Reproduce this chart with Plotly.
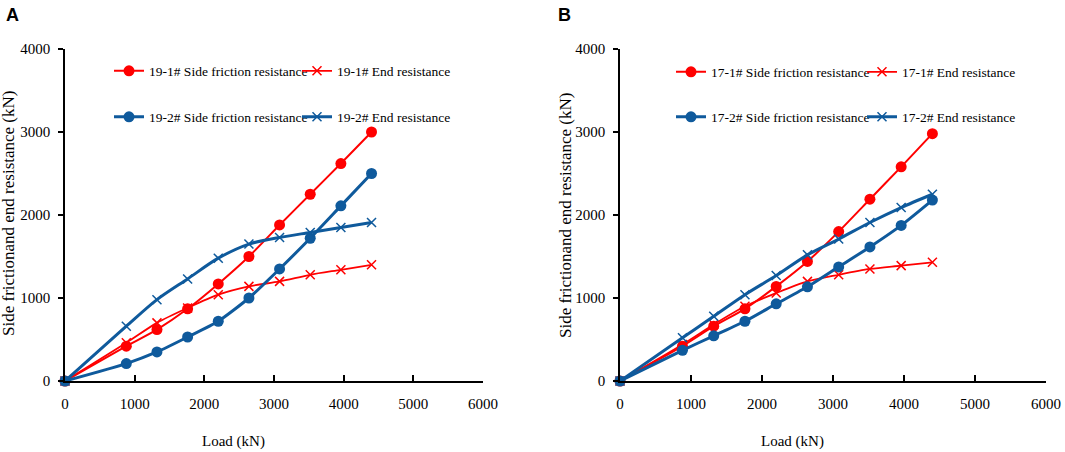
import plotly.graph_objects as go

# ---------------- data ----------------
load = [0, 880, 1320, 1760, 2200, 2640, 3080, 3520, 3960, 4400]

a_19_1_side = [0, 420, 620, 870, 1170, 1500, 1880, 2250, 2620, 3000]
a_19_1_end = [0, 460, 700, 880, 1040, 1140, 1200, 1280, 1340, 1400]
a_19_2_side = [0, 210, 350, 530, 720, 1000, 1350, 1720, 2110, 2500]
a_19_2_end = [0, 660, 980, 1230, 1480, 1650, 1730, 1790, 1850, 1910]

b_17_1_side = [0, 420, 660, 870, 1140, 1440, 1800, 2190, 2580, 2980]
b_17_1_end = [0, 440, 680, 900, 1060, 1200, 1280, 1350, 1390, 1430]
b_17_2_side = [0, 370, 545, 720, 930, 1135, 1375, 1615, 1875, 2180]
b_17_2_end = [0, 520, 780, 1040, 1270, 1520, 1710, 1910, 2090, 2250]

x_ticks = [0, 1000, 2000, 3000, 4000, 5000, 6000]
y_ticks = [0, 1000, 2000, 3000, 4000]

names_a = ["19-1# Side friction resistance", "19-1# End resistance",
           "19-2# Side friction resistance", "19-2# End resistance"]
names_b = ["17-1# Side friction resistance", "17-1# End resistance",
           "17-2# Side friction resistance", "17-2# End resistance"]

# ---------------- style ----------------
RED = "#ff0000"
BLUE = "#0f5a9c"
W, H = 1065, 452
SERIF = "Liberation Serif"

fig = go.Figure()


def side(x, y, name, color, lw, xa, ya, leg):
    fig.add_trace(go.Scatter(
        x=x, y=y, name=name, mode="lines+markers", xaxis=xa, yaxis=ya,
        legend=leg, cliponaxis=False, showlegend=True,
        line=dict(color=color, width=lw, shape="spline", smoothing=0.6),
        marker=dict(symbol="circle", size=11, color=color)))


def end(x, y, name, color, lw, xa, ya, leg):
    fig.add_trace(go.Scatter(
        x=x, y=y, name=name, mode="lines+markers", xaxis=xa, yaxis=ya,
        legend=leg, cliponaxis=False, showlegend=True,
        line=dict(color=color, width=lw, shape="spline", smoothing=0.8),
        marker=dict(symbol="x-thin-open", size=9, color=color,
                    line=dict(color=color, width=1.5))))


side(load, a_19_1_side, names_a[0], RED, 2, "x", "y", "legend")
end(load, a_19_1_end, names_a[1], RED, 1.8, "x", "y", "legend2")
side(load, a_19_2_side, names_a[2], BLUE, 3, "x", "y", "legend3")
end(load, a_19_2_end, names_a[3], BLUE, 3, "x", "y", "legend4")

side(load, b_17_1_side, names_b[0], RED, 2, "x2", "y2", "legend5")
end(load, b_17_1_end, names_b[1], RED, 1.8, "x2", "y2", "legend6")
side(load, b_17_2_side, names_b[2], BLUE, 3, "x2", "y2", "legend7")
end(load, b_17_2_end, names_b[3], BLUE, 3, "x2", "y2", "legend8")

ydom = [1 - 381 / H, 1 - 49 / H]
common_x = dict(range=[0, 6000], tickvals=x_ticks, showline=True, linecolor="black",
                linewidth=1.6, ticks="inside", ticklen=6, tickwidth=1.5, tickcolor="black",
                showgrid=False, zeroline=False, ticklabelstandoff=8, automargin=False,
                tickfont=dict(family=SERIF, size=15, color="black"))
common_y = dict(range=[0, 4000], tickvals=y_ticks, showline=True, linecolor="black",
                linewidth=1.6, ticks="outside", ticklen=5, tickwidth=1.5, tickcolor="black",
                showgrid=False, zeroline=False, ticklabelstandoff=5, automargin=False,
                tickfont=dict(family=SERIF, size=15, color="black"), domain=ydom)

legend_font = dict(family=SERIF, size=13.5, color="black")


def leg(text_x, yc):
    return dict(x=(text_x - 41) / W, y=1 - yc / H, xanchor="left", yanchor="middle",
                orientation="h", bgcolor="rgba(0,0,0,0)", borderwidth=0,
                font=legend_font, itemclick=False)


fig.update_layout(
    width=W, height=H, margin=dict(l=0, r=0, t=0, b=0, autoexpand=False),
    paper_bgcolor="white", plot_bgcolor="white", showlegend=True,
    font=dict(family=SERIF, color="black"),
    xaxis=dict(common_x, domain=[65 / W, 483 / W], anchor="y"),
    yaxis=dict(common_y, anchor="x"),
    xaxis2=dict(common_x, domain=[620 / W, 1046 / W], anchor="y2"),
    yaxis2=dict(common_y, anchor="x2"),
    legend=leg(150, 71), legend2=leg(338, 71),
    legend3=leg(150, 117), legend4=leg(338, 117),
    legend5=leg(712, 72), legend6=leg(903, 72),
    legend7=leg(712, 117), legend8=leg(903, 117),
    annotations=[
        dict(text="<b>A</b>", x=4 / W, y=1 - 3 / H, xref="paper", yref="paper",
             xanchor="left", yanchor="top", showarrow=False,
             font=dict(family="Liberation Sans", size=18, color="black")),
        dict(text="<b>B</b>", x=556 / W, y=1 - 3 / H, xref="paper", yref="paper",
             xanchor="left", yanchor="top", showarrow=False,
             font=dict(family="Liberation Sans", size=18, color="black")),
        dict(text="Load (kN)", x=233 / W, y=1 - 441 / H, xref="paper", yref="paper",
             xanchor="center", yanchor="middle", showarrow=False,
             font=dict(family=SERIF, size=15, color="black")),
        dict(text="Load (kN)", x=792 / W, y=1 - 441 / H, xref="paper", yref="paper",
             xanchor="center", yanchor="middle", showarrow=False,
             font=dict(family=SERIF, size=15, color="black")),
        dict(text="Side frictionand end resistance (kN)", x=9 / W, y=1 - 214 / H,
             xref="paper", yref="paper", xanchor="center", yanchor="middle",
             showarrow=False, textangle=-90,
             font=dict(family=SERIF, size=17, color="black")),
        dict(text="Side frictionand end resistance (kN)", x=565 / W, y=1 - 216 / H,
             xref="paper", yref="paper", xanchor="center", yanchor="middle",
             showarrow=False, textangle=-90,
             font=dict(family=SERIF, size=17, color="black")),
    ],
)

fig.write_html(
    "out.html",
    config={"displayModeBar": False},
    post_script="document.body.style.margin='0';document.body.style.overflow='hidden';",
)
